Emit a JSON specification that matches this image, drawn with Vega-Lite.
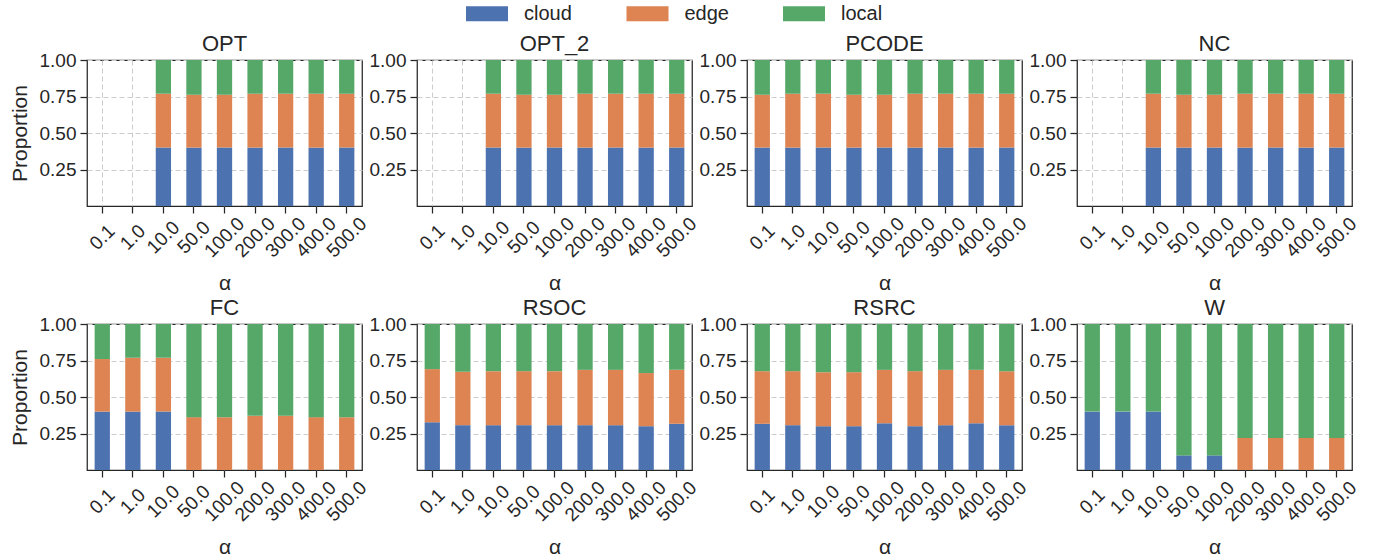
{
  "$schema": "https://vega.github.io/schema/vega-lite/v6.json",
  "background": "white",
  "padding": {"left": 8, "top": 3, "right": 5, "bottom": 5},
  "data": {"values": [
    {"m":"OPT","a":"10.0","cloud":0.40,"edge":0.369,"local":0.231},
    {"m":"OPT","a":"50.0","cloud":0.40,"edge":0.362,"local":0.238},
    {"m":"OPT","a":"100.0","cloud":0.40,"edge":0.362,"local":0.238},
    {"m":"OPT","a":"200.0","cloud":0.40,"edge":0.369,"local":0.231},
    {"m":"OPT","a":"300.0","cloud":0.40,"edge":0.369,"local":0.231},
    {"m":"OPT","a":"400.0","cloud":0.40,"edge":0.369,"local":0.231},
    {"m":"OPT","a":"500.0","cloud":0.40,"edge":0.369,"local":0.231},
    {"m":"OPT_2","a":"10.0","cloud":0.40,"edge":0.369,"local":0.231},
    {"m":"OPT_2","a":"50.0","cloud":0.40,"edge":0.362,"local":0.238},
    {"m":"OPT_2","a":"100.0","cloud":0.40,"edge":0.362,"local":0.238},
    {"m":"OPT_2","a":"200.0","cloud":0.40,"edge":0.369,"local":0.231},
    {"m":"OPT_2","a":"300.0","cloud":0.40,"edge":0.369,"local":0.231},
    {"m":"OPT_2","a":"400.0","cloud":0.40,"edge":0.369,"local":0.231},
    {"m":"OPT_2","a":"500.0","cloud":0.40,"edge":0.369,"local":0.231},
    {"m":"PCODE","a":"0.1","cloud":0.40,"edge":0.362,"local":0.238},
    {"m":"PCODE","a":"1.0","cloud":0.40,"edge":0.369,"local":0.231},
    {"m":"PCODE","a":"10.0","cloud":0.40,"edge":0.369,"local":0.231},
    {"m":"PCODE","a":"50.0","cloud":0.40,"edge":0.362,"local":0.238},
    {"m":"PCODE","a":"100.0","cloud":0.40,"edge":0.362,"local":0.238},
    {"m":"PCODE","a":"200.0","cloud":0.40,"edge":0.369,"local":0.231},
    {"m":"PCODE","a":"300.0","cloud":0.40,"edge":0.369,"local":0.231},
    {"m":"PCODE","a":"400.0","cloud":0.40,"edge":0.369,"local":0.231},
    {"m":"PCODE","a":"500.0","cloud":0.40,"edge":0.369,"local":0.231},
    {"m":"NC","a":"10.0","cloud":0.40,"edge":0.369,"local":0.231},
    {"m":"NC","a":"50.0","cloud":0.40,"edge":0.362,"local":0.238},
    {"m":"NC","a":"100.0","cloud":0.40,"edge":0.362,"local":0.238},
    {"m":"NC","a":"200.0","cloud":0.40,"edge":0.369,"local":0.231},
    {"m":"NC","a":"300.0","cloud":0.40,"edge":0.369,"local":0.231},
    {"m":"NC","a":"400.0","cloud":0.40,"edge":0.369,"local":0.231},
    {"m":"NC","a":"500.0","cloud":0.40,"edge":0.369,"local":0.231},
    {"m":"FC","a":"0.1","cloud":0.40,"edge":0.36,"local":0.24},
    {"m":"FC","a":"1.0","cloud":0.40,"edge":0.369,"local":0.231},
    {"m":"FC","a":"10.0","cloud":0.40,"edge":0.369,"local":0.231},
    {"m":"FC","a":"50.0","cloud":0,"edge":0.362,"local":0.638},
    {"m":"FC","a":"100.0","cloud":0,"edge":0.362,"local":0.638},
    {"m":"FC","a":"200.0","cloud":0,"edge":0.371,"local":0.629},
    {"m":"FC","a":"300.0","cloud":0,"edge":0.371,"local":0.629},
    {"m":"FC","a":"400.0","cloud":0,"edge":0.362,"local":0.638},
    {"m":"FC","a":"500.0","cloud":0,"edge":0.362,"local":0.638},
    {"m":"RSOC","a":"0.1","cloud":0.327,"edge":0.364,"local":0.309},
    {"m":"RSOC","a":"1.0","cloud":0.307,"edge":0.366,"local":0.327},
    {"m":"RSOC","a":"10.0","cloud":0.307,"edge":0.370,"local":0.323},
    {"m":"RSOC","a":"50.0","cloud":0.307,"edge":0.370,"local":0.323},
    {"m":"RSOC","a":"100.0","cloud":0.307,"edge":0.370,"local":0.323},
    {"m":"RSOC","a":"200.0","cloud":0.307,"edge":0.379,"local":0.314},
    {"m":"RSOC","a":"300.0","cloud":0.307,"edge":0.379,"local":0.314},
    {"m":"RSOC","a":"400.0","cloud":0.300,"edge":0.364,"local":0.336},
    {"m":"RSOC","a":"500.0","cloud":0.316,"edge":0.370,"local":0.314},
    {"m":"RSRC","a":"0.1","cloud":0.316,"edge":0.361,"local":0.323},
    {"m":"RSRC","a":"1.0","cloud":0.307,"edge":0.370,"local":0.323},
    {"m":"RSRC","a":"10.0","cloud":0.300,"edge":0.370,"local":0.330},
    {"m":"RSRC","a":"50.0","cloud":0.300,"edge":0.370,"local":0.330},
    {"m":"RSRC","a":"100.0","cloud":0.320,"edge":0.366,"local":0.314},
    {"m":"RSRC","a":"200.0","cloud":0.300,"edge":0.377,"local":0.323},
    {"m":"RSRC","a":"300.0","cloud":0.307,"edge":0.379,"local":0.314},
    {"m":"RSRC","a":"400.0","cloud":0.320,"edge":0.366,"local":0.314},
    {"m":"RSRC","a":"500.0","cloud":0.307,"edge":0.370,"local":0.323},
    {"m":"W","a":"0.1","cloud":0.40,"edge":0,"local":0.60},
    {"m":"W","a":"1.0","cloud":0.40,"edge":0,"local":0.60},
    {"m":"W","a":"10.0","cloud":0.40,"edge":0,"local":0.60},
    {"m":"W","a":"50.0","cloud":0.10,"edge":0,"local":0.90},
    {"m":"W","a":"100.0","cloud":0.10,"edge":0,"local":0.90},
    {"m":"W","a":"200.0","cloud":0,"edge":0.22,"local":0.78},
    {"m":"W","a":"300.0","cloud":0,"edge":0.22,"local":0.78},
    {"m":"W","a":"400.0","cloud":0,"edge":0.22,"local":0.78},
    {"m":"W","a":"500.0","cloud":0,"edge":0.22,"local":0.78}
  ]},
  "columns": 4,
  "spacing": {"row": 118, "column": 55},
  "bounds": "flush",
  "concat": [
    {"title": "OPT", "width": 275, "height": 146,
     "transform": [{"filter": "datum.m === 'OPT'"}, {"fold": ["cloud", "edge", "local"], "as": ["key", "value"]}],
     "mark": {"type": "bar"},
     "encoding": {
       "x": {"field": "a", "type": "ordinal", "scale": {"domain": ["0.1","1.0","10.0","50.0","100.0","200.0","300.0","400.0","500.0"]}, "axis": {"title": "α", "bandPosition": 0.5}},
       "y": {"field": "value", "type": "quantitative", "stack": "zero", "scale": {"domain": [0, 1]}, "axis": {"title": "Proportion", "values": [0.25, 0.5, 0.75, 1], "format": ".2f"}},
       "order": {"field": "key", "sort": "ascending"},
       "color": {"field": "key", "type": "nominal", "title": null, "scale": {"domain": ["cloud","edge","local"], "range": ["#4c72b0","#dd8452","#55a868"]}, "legend": {"orient": "none", "direction": "horizontal", "legendX": 389.5, "legendY": -57}}
     }},
    {"title": "OPT_2", "width": 275, "height": 146,
     "transform": [{"filter": "datum.m === 'OPT_2'"}, {"fold": ["cloud", "edge", "local"], "as": ["key", "value"]}],
     "mark": {"type": "bar"},
     "encoding": {
       "x": {"field": "a", "type": "ordinal", "scale": {"domain": ["0.1","1.0","10.0","50.0","100.0","200.0","300.0","400.0","500.0"]}, "axis": {"title": "α", "bandPosition": 0.5}},
       "y": {"field": "value", "type": "quantitative", "stack": "zero", "scale": {"domain": [0, 1]}, "axis": {"title": null, "values": [0.25, 0.5, 0.75, 1], "format": ".2f"}},
       "order": {"field": "key", "sort": "ascending"},
       "color": {"field": "key", "type": "nominal", "title": null, "scale": {"domain": ["cloud","edge","local"], "range": ["#4c72b0","#dd8452","#55a868"]}, "legend": {"orient": "none", "direction": "horizontal", "legendX": 389.5, "legendY": -57}}
     }},
    {"title": "PCODE", "width": 275, "height": 146,
     "transform": [{"filter": "datum.m === 'PCODE'"}, {"fold": ["cloud", "edge", "local"], "as": ["key", "value"]}],
     "mark": {"type": "bar"},
     "encoding": {
       "x": {"field": "a", "type": "ordinal", "scale": {"domain": ["0.1","1.0","10.0","50.0","100.0","200.0","300.0","400.0","500.0"]}, "axis": {"title": "α", "bandPosition": 0.5}},
       "y": {"field": "value", "type": "quantitative", "stack": "zero", "scale": {"domain": [0, 1]}, "axis": {"title": null, "values": [0.25, 0.5, 0.75, 1], "format": ".2f"}},
       "order": {"field": "key", "sort": "ascending"},
       "color": {"field": "key", "type": "nominal", "title": null, "scale": {"domain": ["cloud","edge","local"], "range": ["#4c72b0","#dd8452","#55a868"]}, "legend": {"orient": "none", "direction": "horizontal", "legendX": 389.5, "legendY": -57}}
     }},
    {"title": "NC", "width": 275, "height": 146,
     "transform": [{"filter": "datum.m === 'NC'"}, {"fold": ["cloud", "edge", "local"], "as": ["key", "value"]}],
     "mark": {"type": "bar"},
     "encoding": {
       "x": {"field": "a", "type": "ordinal", "scale": {"domain": ["0.1","1.0","10.0","50.0","100.0","200.0","300.0","400.0","500.0"]}, "axis": {"title": "α", "bandPosition": 0.5}},
       "y": {"field": "value", "type": "quantitative", "stack": "zero", "scale": {"domain": [0, 1]}, "axis": {"title": null, "values": [0.25, 0.5, 0.75, 1], "format": ".2f"}},
       "order": {"field": "key", "sort": "ascending"},
       "color": {"field": "key", "type": "nominal", "title": null, "scale": {"domain": ["cloud","edge","local"], "range": ["#4c72b0","#dd8452","#55a868"]}, "legend": {"orient": "none", "direction": "horizontal", "legendX": 389.5, "legendY": -57}}
     }},
    {"title": "FC", "width": 275, "height": 146,
     "transform": [{"filter": "datum.m === 'FC'"}, {"fold": ["cloud", "edge", "local"], "as": ["key", "value"]}],
     "mark": {"type": "bar"},
     "encoding": {
       "x": {"field": "a", "type": "ordinal", "scale": {"domain": ["0.1","1.0","10.0","50.0","100.0","200.0","300.0","400.0","500.0"]}, "axis": {"title": "α", "bandPosition": 0.5}},
       "y": {"field": "value", "type": "quantitative", "stack": "zero", "scale": {"domain": [0, 1]}, "axis": {"title": "Proportion", "values": [0.25, 0.5, 0.75, 1], "format": ".2f"}},
       "order": {"field": "key", "sort": "ascending"},
       "color": {"field": "key", "type": "nominal", "title": null, "scale": {"domain": ["cloud","edge","local"], "range": ["#4c72b0","#dd8452","#55a868"]}, "legend": {"orient": "none", "direction": "horizontal", "legendX": 389.5, "legendY": -57}}
     }},
    {"title": "RSOC", "width": 275, "height": 146,
     "transform": [{"filter": "datum.m === 'RSOC'"}, {"fold": ["cloud", "edge", "local"], "as": ["key", "value"]}],
     "mark": {"type": "bar"},
     "encoding": {
       "x": {"field": "a", "type": "ordinal", "scale": {"domain": ["0.1","1.0","10.0","50.0","100.0","200.0","300.0","400.0","500.0"]}, "axis": {"title": "α", "bandPosition": 0.5}},
       "y": {"field": "value", "type": "quantitative", "stack": "zero", "scale": {"domain": [0, 1]}, "axis": {"title": null, "values": [0.25, 0.5, 0.75, 1], "format": ".2f"}},
       "order": {"field": "key", "sort": "ascending"},
       "color": {"field": "key", "type": "nominal", "title": null, "scale": {"domain": ["cloud","edge","local"], "range": ["#4c72b0","#dd8452","#55a868"]}, "legend": {"orient": "none", "direction": "horizontal", "legendX": 389.5, "legendY": -57}}
     }},
    {"title": "RSRC", "width": 275, "height": 146,
     "transform": [{"filter": "datum.m === 'RSRC'"}, {"fold": ["cloud", "edge", "local"], "as": ["key", "value"]}],
     "mark": {"type": "bar"},
     "encoding": {
       "x": {"field": "a", "type": "ordinal", "scale": {"domain": ["0.1","1.0","10.0","50.0","100.0","200.0","300.0","400.0","500.0"]}, "axis": {"title": "α", "bandPosition": 0.5}},
       "y": {"field": "value", "type": "quantitative", "stack": "zero", "scale": {"domain": [0, 1]}, "axis": {"title": null, "values": [0.25, 0.5, 0.75, 1], "format": ".2f"}},
       "order": {"field": "key", "sort": "ascending"},
       "color": {"field": "key", "type": "nominal", "title": null, "scale": {"domain": ["cloud","edge","local"], "range": ["#4c72b0","#dd8452","#55a868"]}, "legend": {"orient": "none", "direction": "horizontal", "legendX": 389.5, "legendY": -57}}
     }},
    {"title": "W", "width": 275, "height": 146,
     "transform": [{"filter": "datum.m === 'W'"}, {"fold": ["cloud", "edge", "local"], "as": ["key", "value"]}],
     "mark": {"type": "bar"},
     "encoding": {
       "x": {"field": "a", "type": "ordinal", "scale": {"domain": ["0.1","1.0","10.0","50.0","100.0","200.0","300.0","400.0","500.0"]}, "axis": {"title": "α", "bandPosition": 0.5}},
       "y": {"field": "value", "type": "quantitative", "stack": "zero", "scale": {"domain": [0, 1]}, "axis": {"title": null, "values": [0.25, 0.5, 0.75, 1], "format": ".2f"}},
       "order": {"field": "key", "sort": "ascending"},
       "color": {"field": "key", "type": "nominal", "title": null, "scale": {"domain": ["cloud","edge","local"], "range": ["#4c72b0","#dd8452","#55a868"]}, "legend": {"orient": "none", "direction": "horizontal", "legendX": 389.5, "legendY": -57}}
     }}
  ],
  "config": {
    "font": "Liberation Sans",
    "view": {"stroke": "#262626", "strokeWidth": 1.25},
    "scale": {"bandPaddingInner": 0.5, "bandPaddingOuter": 0.25},
    "bar": {"strokeWidth": 0},
    "title": {"font": "Liberation Sans", "fontSize": 22, "fontWeight": "normal", "color": "#262626", "offset": -5},
    "axis": {
      "labelFont": "Liberation Sans", "labelFontSize": 19, "labelColor": "#262626",
      "titleFont": "Liberation Sans", "titleFontSize": 21, "titleFontWeight": "normal", "titleColor": "#262626",
      "tickColor": "#262626", "tickSize": 7, "tickWidth": 1.25,
      "domain": false, "grid": true, "gridColor": "#cccccc", "gridDash": [5, 3], "gridWidth": 1,
      "labelPadding": 4
    },
    "axisX": {"labelAngle": -45, "labelAlign": "center", "labelBaseline": "middle", "labelPadding": 24, "labelOverlap": false, "titlePadding": 12},
    "axisY": {"titlePadding": 9},
    "legend": {
      "symbolType": "M-2,-0.714L2,-0.714L2,0.714L-2,0.714Z", "symbolSize": 441, "symbolStrokeWidth": 0, "symbolOpacity": 1,
      "labelFont": "Liberation Sans", "labelFontSize": 20, "labelColor": "#262626", "labelOffset": 26.5, "columnPadding": 53.5, "padding": 0
    }
  }
}
